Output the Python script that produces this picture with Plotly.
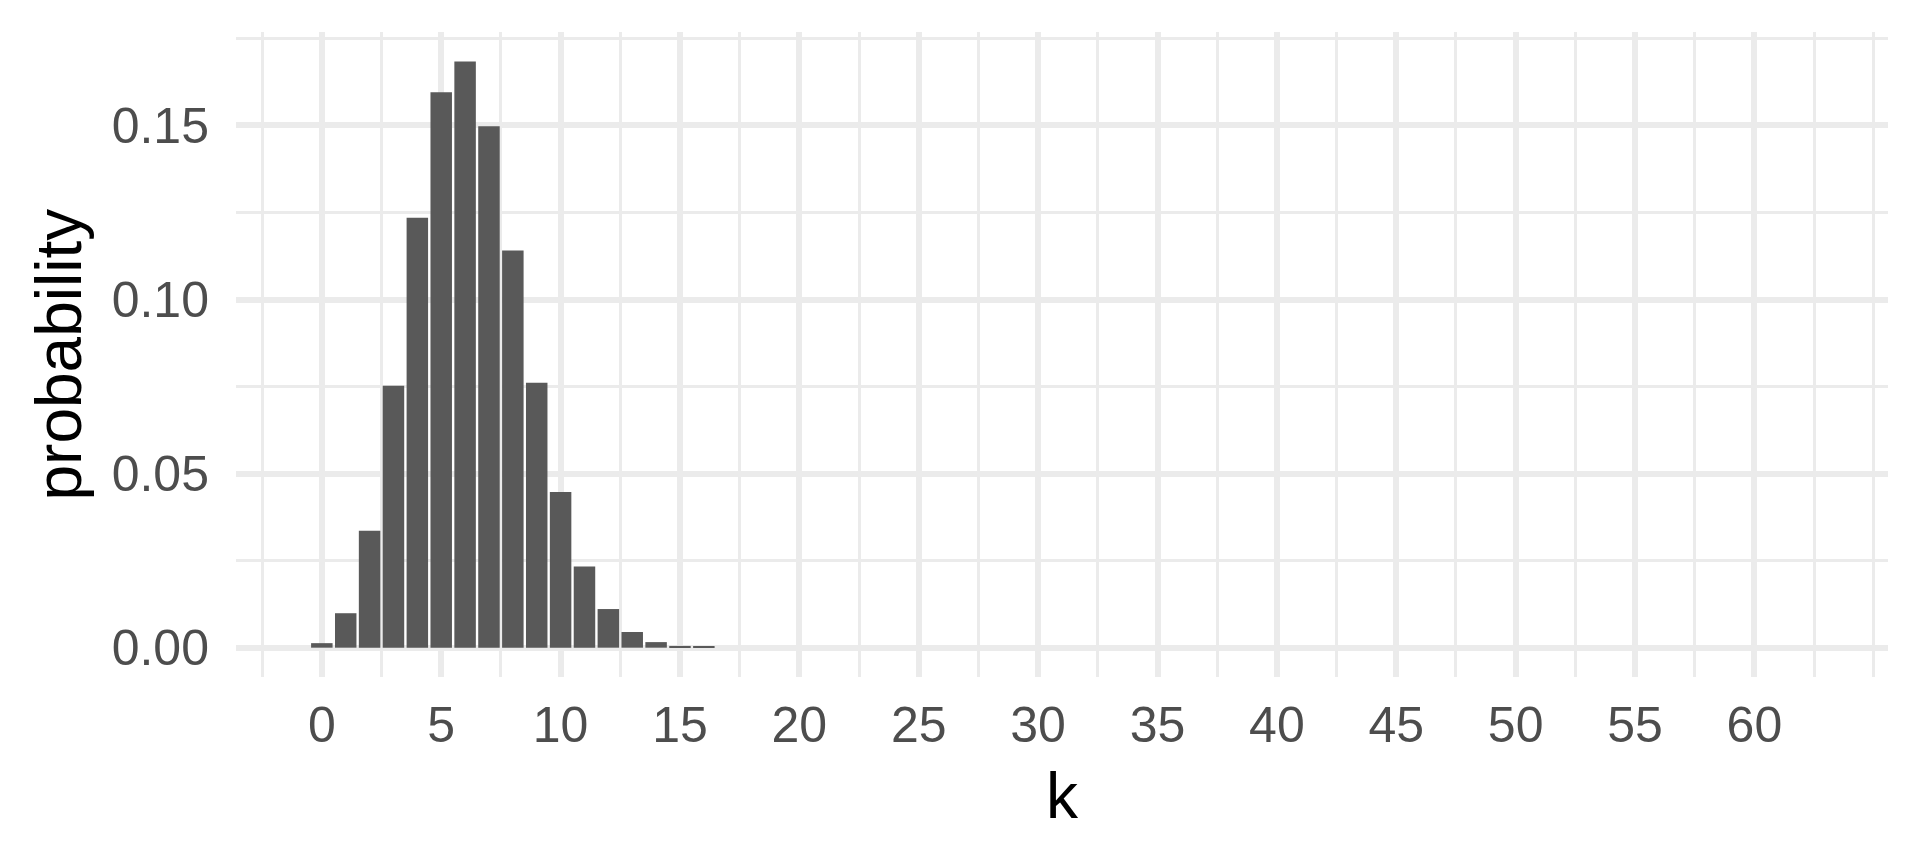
import plotly.graph_objects as go

k = list(range(0, 63))
probability = [0.0013, 0.0099, 0.0336, 0.0752, 0.1235, 0.1595, 0.1684, 0.1498,
               0.1141, 0.0761, 0.0447, 0.0233, 0.0111, 0.0045, 0.0016, 0.0005,
               0.0002] + [0.0] * 46

x_ticks = list(range(0, 61, 5))
x_minor = [-2.5 + 5 * i for i in range(14)] + [65]
y_ticks = [0.00, 0.05, 0.10, 0.15]
y_tick_text = ["0.00", "0.05", "0.10", "0.15"]
y_minor = [0.025, 0.075, 0.125, 0.175]

GRID = "#EBEBEB"
FONT = "Liberation Sans, Arial, Helvetica, sans-serif"

fig = go.Figure(go.Bar(x=k, y=probability, width=0.9,
                       marker=dict(color="#595959", line=dict(width=0))))

fig.update_layout(
    width=1920, height=864,
    margin=dict(l=228, r=40, t=24, b=195),
    paper_bgcolor="white", plot_bgcolor="white",
    showlegend=False,
    font=dict(family=FONT),
    xaxis=dict(range=[-3.595, 65.595], tickmode="array", tickvals=x_ticks,
               ticktext=[str(v) for v in x_ticks],
               showgrid=True, gridcolor=GRID, gridwidth=5.5, zeroline=False,
               showline=False, ticks="", ticklabelstandoff=14,
               tickfont=dict(size=50, color="#4D4D4D", family=FONT),
               minor=dict(tickmode="array", tickvals=x_minor, showgrid=True,
                          gridcolor=GRID, gridwidth=2.8, ticks="")),
    yaxis=dict(range=[-0.00842, 0.17684], tickmode="array", tickvals=y_ticks,
               ticktext=y_tick_text,
               showgrid=True, gridcolor=GRID, gridwidth=5.5, zeroline=False,
               showline=False, ticks="", ticklabelstandoff=26,
               tickfont=dict(size=50, color="#4D4D4D", family=FONT),
               minor=dict(tickmode="array", tickvals=y_minor, showgrid=True,
                          gridcolor=GRID, gridwidth=2.8, ticks="")),
    annotations=[
        dict(text="k", xref="paper", yref="paper", x=0.5, y=0, yshift=-119,
             xanchor="center", yanchor="middle", showarrow=False,
             font=dict(size=64, color="black", family=FONT)),
        dict(text="probability", xref="paper", yref="paper", x=0, y=0.5,
             xshift=-178, xanchor="center", yanchor="middle", textangle=-90,
             showarrow=False, font=dict(size=64, color="black", family=FONT)),
    ],
)

fig.write_html("out.html")
